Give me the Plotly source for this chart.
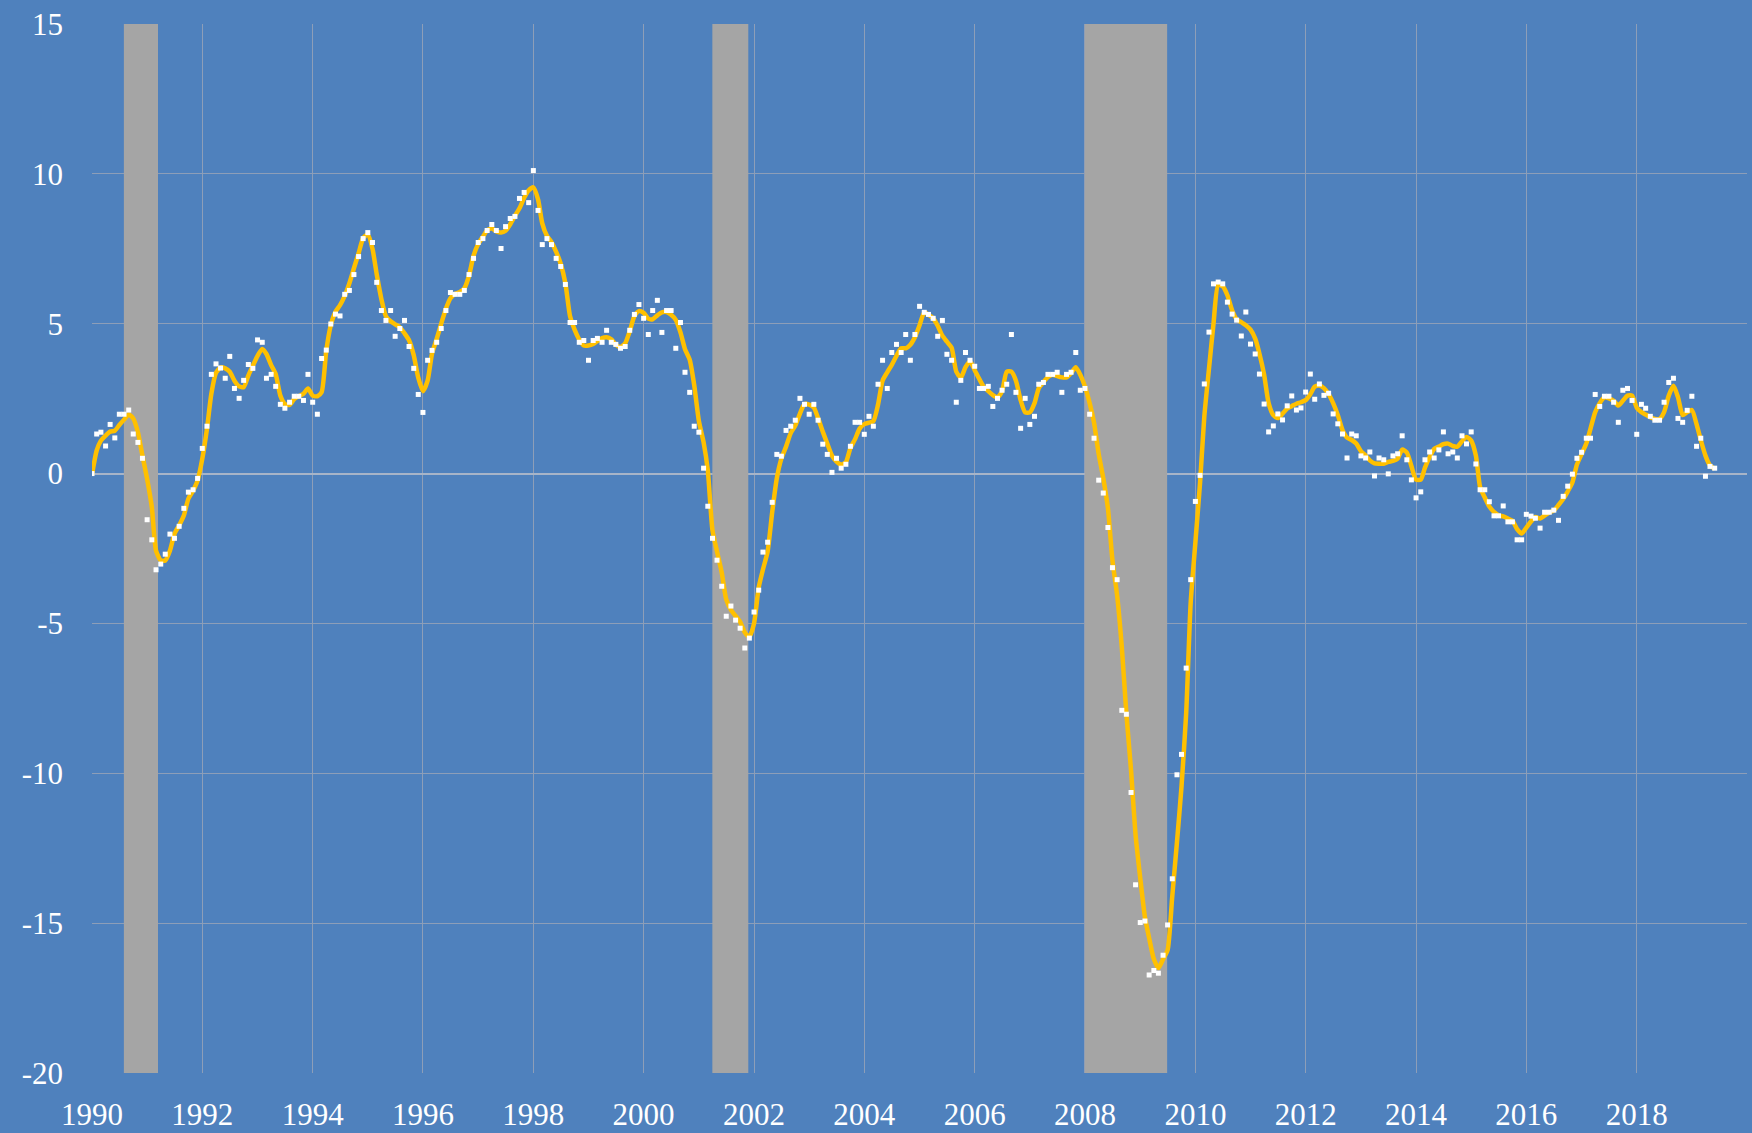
import pandas as pd
import plotly.graph_objects as go

# Monthly observations (white squares), Jan 1990 - Jun 2019
dots = [
    0.0, 1.32, 1.38, 0.92, 1.64, 1.19, 1.98, 1.98, 2.12, 1.32, 1.04, 0.51,
    -1.54, -2.21, -3.21, -3.02, -2.69, -2.02, -2.16, -1.76, -1.16, -0.62, -0.54, -0.16,
    0.84, 1.58, 3.31, 3.66, 3.52, 3.18, 3.91, 2.84, 2.51, 3.11, 3.64, 3.51,
    4.46, 4.38, 3.18, 3.31, 2.91, 2.31, 2.18, 2.38, 2.58, 2.58, 2.44, 3.31,
    2.38, 1.98, 3.84, 4.12, 4.99, 5.32, 5.26, 5.98, 6.11, 6.64, 7.24, 7.84,
    8.04, 7.71, 6.38, 5.44, 5.11, 5.44, 4.58, 4.84, 5.11, 4.24, 3.51, 2.64,
    2.04, 3.78, 4.11, 4.38, 4.84, 5.44, 6.04, 5.98, 5.98, 6.11, 6.64, 7.18,
    7.71, 7.84, 8.11, 8.31, 8.11, 7.51, 8.24, 8.51, 8.58, 9.18, 9.38, 9.04,
    10.11, 8.78, 7.64, 7.84, 7.64, 7.18, 6.91, 6.31, 5.04, 5.04, 4.38, 4.44,
    3.78, 4.44, 4.51, 4.38, 4.78, 4.38, 4.31, 4.18, 4.24, 4.78, 5.31, 5.64,
    5.18, 4.64, 5.44, 5.78, 4.71, 5.44, 5.44, 4.18, 5.04, 3.38, 2.71, 1.58,
    1.38, 0.18, -1.09, -2.16, -2.89, -3.76, -4.76, -4.42, -4.89, -5.16, -5.82, -5.49,
    -4.62, -3.89, -2.62, -2.29, -0.96, 0.64, 0.58, 1.44, 1.58, 1.78, 2.51, 2.31,
    1.98, 2.31, 1.78, 0.98, 0.64, 0.04, 0.51, 0.18, 0.31, 0.91, 1.71, 1.71,
    1.31, 1.91, 1.58, 2.98, 3.78, 2.84, 4.04, 4.31, 4.04, 4.64, 3.78, 4.64,
    5.58, 5.38, 5.31, 5.18, 4.58, 5.11, 3.98, 3.78, 2.38, 3.11, 4.04, 3.78,
    3.58, 2.84, 2.84, 2.91, 2.24, 2.51, 2.78, 2.98, 4.64, 2.71, 1.51, 2.51,
    1.64, 1.91, 2.98, 3.04, 3.31, 3.31, 3.38, 2.71, 3.31, 3.38, 4.04, 2.78,
    2.84, 1.98, 1.18, -0.22, -0.65, -1.8, -3.14, -3.54, -7.9, -8.03, -10.64, -13.72,
    -14.98, -14.93, -16.73, -16.58, -16.67, -16.07, -15.06, -13.52, -10.05, -9.37, -6.49, -3.54,
    -0.93, -0.06, 2.99, 4.72, 6.33, 6.39, 6.33, 5.72, 5.32, 5.12, 4.59, 5.39,
    4.32, 3.99, 3.32, 2.32, 1.39, 1.59, 1.99, 1.79, 2.26, 2.59, 2.12, 2.19,
    2.72, 3.32, 2.48, 2.99, 2.61, 2.68, 1.99, 1.66, 1.32, 0.52, 1.32, 1.26,
    0.59, 0.52, 0.72, -0.08, 0.52, 0.46, -0.01, 0.59, 0.66, 1.26, 0.46, -0.21,
    -0.81, -0.61, 0.46, 0.72, 0.52, 0.79, 1.39, 0.66, 0.72, 0.52, 1.26, 0.99,
    1.39, 0.32, -0.54, -0.54, -0.94, -1.41, -1.41, -1.08, -1.61, -1.61, -2.21, -2.21,
    -1.36, -1.42, -1.49, -1.82, -1.29, -1.29, -1.22, -1.56, -0.76, -0.42, -0.02, 0.51,
    0.71, 1.18, 1.18, 2.64, 2.24, 2.58, 2.58, 2.38, 1.71, 2.78, 2.84, 2.44,
    1.31, 2.31, 2.18, 1.91, 1.78, 1.78, 2.38, 3.04, 3.18, 1.84, 1.71, 2.11,
    2.58, 0.91, 1.18, -0.09, 0.24, 0.18,
]

# Smoothed trend (gold line), same months
trend = [
    -0.03, 0.77, 1.1, 1.27, 1.4, 1.43, 1.62, 1.8, 1.97, 1.84, 1.38, 0.6,
    -0.18, -1.12, -2.57, -2.9, -2.9, -2.57, -2.01, -1.73, -1.4, -0.84, -0.57, -0.23,
    0.49, 1.49, 2.66, 3.36, 3.54, 3.51, 3.4, 3.1, 2.91, 2.88, 3.27, 3.6,
    3.93, 4.16, 3.99, 3.62, 3.32, 2.6, 2.32, 2.29, 2.49, 2.58, 2.66, 2.84,
    2.6, 2.58, 2.71, 4.1, 4.95, 5.4, 5.62, 5.93, 6.35, 6.85, 7.35, 7.85,
    7.98, 7.5, 6.65, 5.82, 5.25, 5.08, 4.98, 4.88, 4.68, 4.45, 3.95, 3.2,
    2.75, 3.1, 4.0, 4.49, 5.0, 5.5, 5.85, 6.0, 6.06, 6.18, 6.6, 7.27,
    7.66, 7.9, 8.12, 8.18, 8.08, 8.04, 8.1, 8.32, 8.6, 8.85, 9.2, 9.45,
    9.55, 9.15, 8.35, 7.93, 7.72, 7.4, 7.0, 6.35, 5.25, 4.8, 4.47, 4.27,
    4.27, 4.32, 4.42, 4.52, 4.55, 4.48, 4.3, 4.22, 4.35, 4.75, 5.25, 5.42,
    5.36, 5.17, 5.15, 5.28, 5.38, 5.39, 5.3, 5.13, 4.71, 4.15, 3.8, 2.95,
    1.75, 1.05, 0.1, -1.9, -2.6, -3.3, -4.2, -4.55, -4.75, -4.95, -5.3, -5.45,
    -5.0, -3.8, -3.2, -2.6, -1.3, -0.15, 0.5, 0.9, 1.35, 1.6, 2.0, 2.32,
    2.3, 2.2, 1.85, 1.4, 1.0, 0.6, 0.4, 0.3, 0.38, 0.85, 1.15, 1.5,
    1.65, 1.7, 1.75, 2.3, 3.1, 3.38, 3.63, 3.93, 4.18, 4.18, 4.3, 4.55,
    4.95, 5.38, 5.3, 5.18, 4.93, 4.6, 4.4, 4.2, 3.4, 3.2, 3.55, 3.75,
    3.45, 3.15, 2.9, 2.75, 2.62, 2.54, 2.75, 3.4, 3.4, 3.1, 2.45, 2.04,
    2.04, 2.35, 2.85, 3.05, 3.22, 3.3, 3.25, 3.21, 3.21, 3.35, 3.55, 3.3,
    2.9, 2.35, 1.7, 0.65, -0.15, -1.16, -2.9, -4.07, -5.8, -8.0, -9.9, -12.05,
    -13.5, -14.8, -15.5, -16.2, -16.5, -16.2, -15.9, -14.1, -12.3, -10.45, -8.0, -4.3,
    -2.3, -0.3, 1.9, 3.5, 5.0, 6.3, 6.25, 5.95, 5.45, 5.15, 5.05, 4.95,
    4.8, 4.5, 4.0, 3.3, 2.35, 1.95, 1.85, 2.0, 2.17, 2.25, 2.33, 2.38,
    2.45, 2.65, 2.9, 2.94, 2.85, 2.65, 2.35, 1.95, 1.45, 1.2, 1.12, 1.0,
    0.75, 0.6, 0.44, 0.34, 0.33, 0.33, 0.39, 0.42, 0.5, 0.8, 0.7, 0.25,
    -0.2, -0.2, 0.2, 0.55, 0.82, 0.9, 0.98, 1.0, 0.92, 0.9, 1.08, 1.22,
    1.1, 0.6, -0.45, -0.8, -1.1, -1.28, -1.39, -1.43, -1.5, -1.57, -1.85, -2.0,
    -1.8, -1.6, -1.45, -1.5, -1.4, -1.3, -1.23, -1.05, -0.85, -0.6, -0.3, 0.3,
    0.65, 1.0, 1.5, 2.05, 2.35, 2.54, 2.51, 2.43, 2.27, 2.43, 2.6, 2.6,
    2.2, 2.05, 1.97, 1.88, 1.82, 1.82, 2.05, 2.6, 2.93, 2.55, 1.95, 2.05,
    2.12, 1.65, 1.12, 0.6, 0.27, 0.16,
]

# Recession periods (grey bands)
rec_start = ["1990-07-31", "2001-03-31", "2007-12-31"]
rec_end = ["1991-03-14", "2001-11-24", "2009-06-28"]

# Axis ticks
x_tick_years = [str(y) for y in range(1990, 2021, 2)]
x_tick_text = [y if y != "2020" else "" for y in x_tick_years]
y_ticks = [-20, -15, -10, -5, 0, 5, 10, 15]

months = pd.date_range("1990-01-01", periods=len(dots), freq="MS")

BG = "#4F81BD"
GRID = "#8D9EB8"
FONT = dict(family="Liberation Serif", size=31, color="white")

fig = go.Figure()

for s, e in zip(rec_start, rec_end):
    fig.add_shape(type="rect", xref="x", yref="y", x0=s, x1=e, y0=-20, y1=15,
                  fillcolor="#A5A5A5", line=dict(width=0), layer="between")

fig.add_trace(go.Scatter(
    x=months, y=trend, mode="lines",
    line=dict(color="#FFC000", width=4.5, shape="spline", smoothing=0.6),
    hoverinfo="skip", showlegend=False,
))
fig.add_trace(go.Scatter(
    x=months, y=dots, mode="markers",
    marker=dict(symbol="square", size=5, color="white", line=dict(width=0)),
    showlegend=False,
))

fig.update_layout(
    width=1752, height=1133,
    paper_bgcolor=BG, plot_bgcolor=BG,
    margin=dict(l=92, r=5, t=24, b=60),
    font=FONT,
    showlegend=False,
    xaxis=dict(
        type="date",
        range=["1990-01-01", "2020-01-01"],
        tickmode="array",
        tickvals=[f"{y}-01-01" for y in x_tick_years],
        ticktext=x_tick_text,
        showgrid=True, gridcolor=GRID, gridwidth=1,
        zeroline=False, showline=False, ticks="",
        ticklabelstandoff=20,
        automargin=False,
        tickfont=FONT,
    ),
    yaxis=dict(
        range=[-20, 15],
        tickmode="array",
        tickvals=y_ticks,
        ticktext=[str(v) for v in y_ticks],
        showgrid=True, gridcolor=GRID, gridwidth=1,
        zeroline=True, zerolinecolor="#A7B4C8", zerolinewidth=1.5,
        showline=False, ticks="",
        ticklabelstandoff=28,
        automargin=False,
        tickfont=FONT,
    ),
)

fig.write_html("out.html", config={"displayModeBar": False},
               post_script="document.body.style.margin='0';")
